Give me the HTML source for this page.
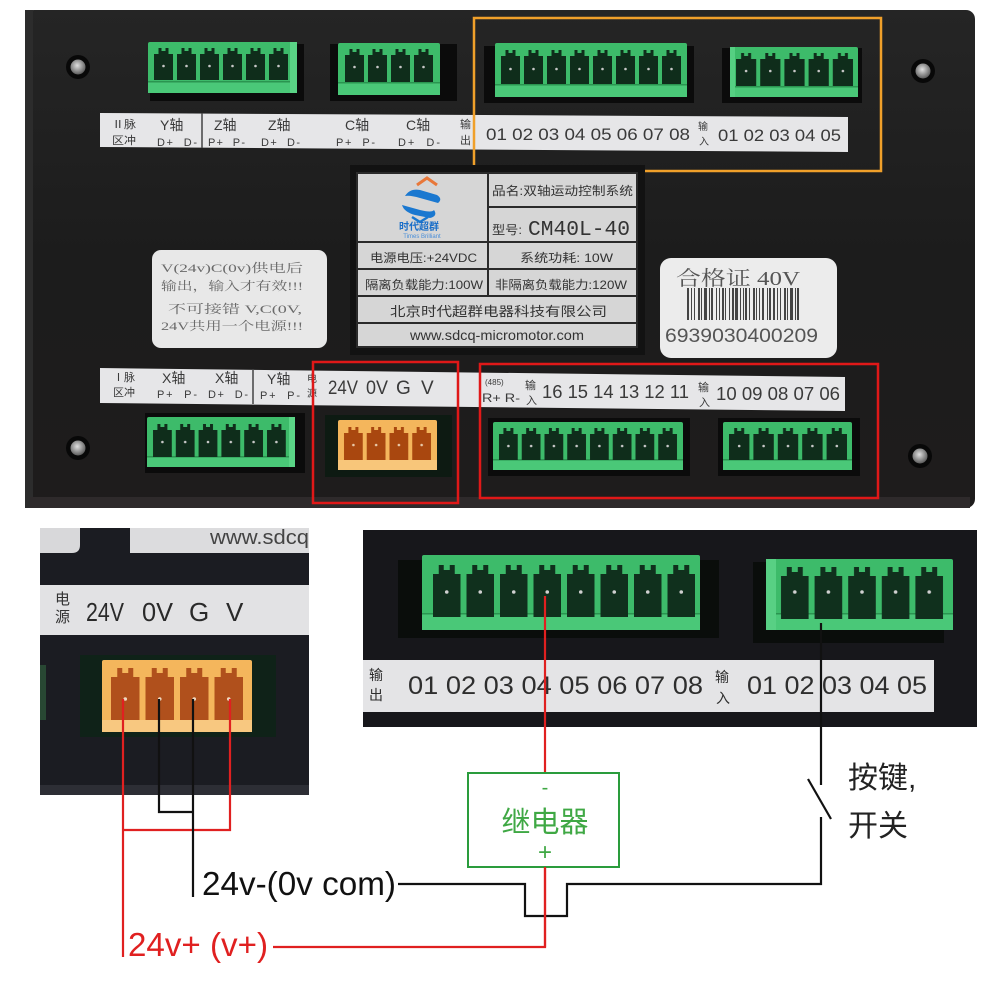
<!DOCTYPE html>
<html><head><meta charset="utf-8"><style>html,body{margin:0;padding:0;background:#fff}svg{display:block}</style></head>
<body>
<svg width="990" height="990" viewBox="0 0 990 990" xmlns="http://www.w3.org/2000/svg" font-family="'Liberation Sans','Noto Sans CJK SC',sans-serif">
<defs>
<radialGradient id="scr" cx="0.45" cy="0.4" r="0.6"><stop offset="0" stop-color="#e0e0e0"/><stop offset="1" stop-color="#5c5c5c"/></radialGradient>
<linearGradient id="pan" x1="0" y1="0" x2="0" y2="1"><stop offset="0" stop-color="#252525"/><stop offset="0.5" stop-color="#1c1c1c"/><stop offset="1" stop-color="#1e1c1c"/></linearGradient>
<!-- green patterns -->
<pattern id="g1" patternUnits="userSpaceOnUse" x="152" y="48" width="23" height="32"><rect x="2" y="6" width="19" height="26" fill="#0f2d1b"/><rect x="6.5" y="0" width="10" height="6" fill="#0f2d1b"/><rect x="9.5" y="0" width="4" height="3" fill="#3dbb6a"/><circle cx="11.5" cy="18" r="1.3" fill="#c8c8c8"/></pattern>
<pattern id="g2" patternUnits="userSpaceOnUse" x="343" y="49" width="23" height="33"><rect x="2" y="6" width="19" height="27" fill="#0f2d1b"/><rect x="6.5" y="0" width="10" height="6" fill="#0f2d1b"/><rect x="9.5" y="0" width="4" height="3" fill="#3dbb6a"/><circle cx="11.5" cy="18" r="1.3" fill="#c8c8c8"/></pattern>
<pattern id="g3" patternUnits="userSpaceOnUse" x="499" y="50" width="23" height="34"><rect x="2" y="6" width="19" height="28" fill="#0f2d1b"/><rect x="6.5" y="0" width="10" height="6" fill="#0f2d1b"/><rect x="9.5" y="0" width="4" height="3" fill="#3dbb6a"/><circle cx="11.5" cy="19" r="1.3" fill="#c8c8c8"/></pattern>
<pattern id="g4" patternUnits="userSpaceOnUse" x="734" y="53" width="24.2" height="33"><rect x="2" y="6" width="20.2" height="27" fill="#0f2d1b"/><rect x="7.1" y="0" width="10" height="6" fill="#0f2d1b"/><rect x="10.1" y="0" width="4" height="3" fill="#3dbb6a"/><circle cx="12.1" cy="18" r="1.3" fill="#c8c8c8"/></pattern>
<pattern id="g5" patternUnits="userSpaceOnUse" x="151" y="424" width="22.8" height="33"><rect x="2" y="6" width="18.8" height="27" fill="#0f2d1b"/><rect x="6.4" y="0" width="10" height="6" fill="#0f2d1b"/><rect x="9.4" y="0" width="4" height="3" fill="#3dbb6a"/><circle cx="11.4" cy="18" r="1.3" fill="#c8c8c8"/></pattern>
<pattern id="o1" patternUnits="userSpaceOnUse" x="342" y="427" width="22.75" height="33"><rect x="2" y="6" width="18.75" height="27" fill="#a9470f"/><rect x="6.4" y="0" width="10" height="6" fill="#a9470f"/><rect x="9.4" y="0" width="4" height="3" fill="#f4b65c"/><circle cx="11.4" cy="18" r="1.3" fill="#e8c8a8"/></pattern>
<pattern id="g6" patternUnits="userSpaceOnUse" x="497" y="428" width="22.75" height="32"><rect x="2" y="6" width="18.75" height="26" fill="#0f2d1b"/><rect x="6.4" y="0" width="10" height="6" fill="#0f2d1b"/><rect x="9.4" y="0" width="4" height="3" fill="#3dbb6a"/><circle cx="11.4" cy="18" r="1.3" fill="#c8c8c8"/></pattern>
<pattern id="g7" patternUnits="userSpaceOnUse" x="727" y="428" width="24.4" height="32"><rect x="2" y="6" width="20.4" height="26" fill="#0f2d1b"/><rect x="7.2" y="0" width="10" height="6" fill="#0f2d1b"/><rect x="10.2" y="0" width="4" height="3" fill="#3dbb6a"/><circle cx="12.2" cy="18" r="1.3" fill="#c8c8c8"/></pattern>
<pattern id="o2" patternUnits="userSpaceOnUse" x="108" y="668" width="34.5" height="52"><rect x="3" y="9" width="28.5" height="43" fill="#b0501c"/><rect x="9.25" y="0" width="16" height="9" fill="#b0501c"/><rect x="14.25" y="0" width="6" height="5" fill="#f4b65c"/><circle cx="17.25" cy="31" r="1.8" fill="#f0d8c0"/></pattern>
<pattern id="g8" patternUnits="userSpaceOnUse" x="430" y="565" width="33.5" height="52"><rect x="3" y="9" width="27.5" height="43" fill="#10301d"/><rect x="8.75" y="0" width="16" height="9" fill="#10301d"/><rect x="13.75" y="0" width="6" height="5" fill="#3dbb6a"/><circle cx="16.75" cy="27" r="1.8" fill="#d0d0d0"/></pattern>
<pattern id="g9" patternUnits="userSpaceOnUse" x="778" y="567" width="33.6" height="52"><rect x="3" y="9" width="27.6" height="43" fill="#10301d"/><rect x="8.8" y="0" width="16" height="9" fill="#10301d"/><rect x="13.8" y="0" width="6" height="5" fill="#3dbb6a"/><circle cx="16.8" cy="25" r="1.8" fill="#d0d0d0"/></pattern>
</defs>

<rect width="990" height="990" fill="#fff"/>

<!-- ===== TOP PANEL ===== -->
<rect x="25" y="10" width="950" height="498" rx="9" fill="url(#pan)"/>
<rect x="25" y="10" width="8" height="498" fill="#2c2c2c"/>
<rect x="30" y="497" width="940" height="11" fill="#2e2a2b"/>

<!-- screws -->
<circle cx="78" cy="67" r="12" fill="#080808"/><circle cx="78" cy="67" r="7.5" fill="url(#scr)"/>
<circle cx="923" cy="71" r="12" fill="#080808"/><circle cx="923" cy="71" r="7.5" fill="url(#scr)"/>
<circle cx="78" cy="448" r="12" fill="#080808"/><circle cx="78" cy="448" r="7.5" fill="url(#scr)"/>
<circle cx="920" cy="456" r="12" fill="#080808"/><circle cx="920" cy="456" r="7.5" fill="url(#scr)"/>

<!-- recesses top -->
<rect x="150" y="44" width="154" height="57" fill="#0b0b0b"/>
<rect x="330" y="44" width="127" height="57" fill="#0b0b0b"/>
<rect x="484" y="46" width="210" height="57" fill="#0b0b0b"/>
<rect x="722" y="48" width="140" height="55" fill="#0b0b0b"/>

<!-- top connectors -->
<rect x="148" y="42" width="149" height="51" rx="2" fill="#3dbb6a"/><rect x="148" y="82" width="149" height="11" fill="#4ac878"/><rect x="148" y="81" width="149" height="1.5" fill="#2a9550"/><rect x="152" y="48" width="138" height="32" fill="url(#g1)"/><rect x="290" y="42" width="7" height="51" fill="#5ad486"/>
<rect x="338" y="43" width="102" height="52" rx="2" fill="#3dbb6a"/><rect x="338" y="83" width="102" height="12" fill="#4ac878"/><rect x="338" y="82" width="102" height="1.5" fill="#2a9550"/><rect x="343" y="49" width="92" height="33" fill="url(#g2)"/>
<rect x="495" y="43" width="192" height="54" rx="2" fill="#3dbb6a"/><rect x="495" y="85" width="192" height="12" fill="#4ac878"/><rect x="495" y="84" width="192" height="1.5" fill="#2a9550"/><rect x="499" y="50" width="184" height="34" fill="url(#g3)"/>
<rect x="730" y="47" width="128" height="50" rx="2" fill="#3dbb6a"/><rect x="730" y="87" width="128" height="10" fill="#4ac878"/><rect x="730" y="86" width="128" height="1.5" fill="#2a9550"/><rect x="734" y="53" width="121" height="33" fill="url(#g4)"/><rect x="730" y="47" width="5" height="50" fill="#55cf82"/>

<!-- top label strip -->
<polygon points="100,113 848,117 848,152 100,147" fill="#e6e6e8"/>
<line x1="202" y1="113" x2="202" y2="148" stroke="#444" stroke-width="1.5"/>
<g fill="#3a3a3a">
<text x="112" y="128" font-size="11" textLength="24" lengthAdjust="spacingAndGlyphs">Ⅱ脉</text>
<text x="112" y="144" font-size="11" textLength="24" lengthAdjust="spacingAndGlyphs">区冲</text>
<text x="160" y="130" font-size="14">Y轴</text>
<text x="157" y="146" font-size="11" textLength="40" xml:space="preserve">D+  D-</text>
<text x="214" y="130" font-size="14">Z轴</text>
<text x="208" y="146" font-size="11" textLength="37" xml:space="preserve">P+  P-</text>
<text x="268" y="130" font-size="14">Z轴</text>
<text x="261" y="146" font-size="11" textLength="39" xml:space="preserve">D+  D-</text>
<text x="345" y="130" font-size="14">C轴</text>
<text x="336" y="146" font-size="11" textLength="39" xml:space="preserve">P+  P-</text>
<text x="406" y="130" font-size="14">C轴</text>
<text x="398" y="146" font-size="11" textLength="42" xml:space="preserve">D+  D-</text>
<text x="460" y="128" font-size="11">输</text>
<text x="460" y="144" font-size="11">出</text>
<text x="486" y="140" font-size="17" textLength="204" lengthAdjust="spacingAndGlyphs">01 02 03 04 05 06 07 08</text>
<text x="698" y="130" font-size="10">输</text>
<text x="699" y="145" font-size="10">入</text>
<text x="718" y="141" font-size="17" textLength="123" lengthAdjust="spacingAndGlyphs">01 02 03 04 05</text>
</g>

<!-- orange box -->
<rect x="474" y="18" width="407" height="153" fill="none" stroke="#f0a02a" stroke-width="2.5"/>

<!-- nameplate -->
<rect x="350" y="165" width="295" height="190" fill="#121212"/>
<rect x="357" y="173" width="280" height="174" fill="#d6d6d6"/>
<g stroke="#2a2a2a" stroke-width="2">
<line x1="488" y1="173" x2="488" y2="296"/>
<line x1="488" y1="207" x2="637" y2="207"/>
<line x1="357" y1="242" x2="637" y2="242"/>
<line x1="357" y1="269" x2="637" y2="269"/>
<line x1="357" y1="296" x2="637" y2="296"/>
<line x1="357" y1="323" x2="637" y2="323"/>
<rect x="357" y="173" width="280" height="174" fill="none"/>
</g>
<!-- logo -->
<path d="M417,185 L427,178 L437,185" fill="none" stroke="#e8783a" stroke-width="3"/>
<path d="M405,196 Q410,188 420,190 L437,195 Q443,199 438,203 L420,198 Q410,195 405,196 Z" fill="#1a78d0"/>
<path d="M402,205 L420,210 Q432,213 434,210 Q438,216 430,218 L415,215 Q404,212 402,205 Z" fill="#1a78d0"/>
<path d="M412,217 L420,222 L428,217" fill="none" stroke="#1a78d0" stroke-width="2.5"/>
<text x="419" y="230" font-size="10" font-weight="bold" fill="#1a6ec8" text-anchor="middle" textLength="40" lengthAdjust="spacingAndGlyphs">时代超群</text>
<text x="422" y="238" font-size="6" fill="#4a8ed8" text-anchor="middle">Times Brilliant</text>
<g fill="#333">
<text x="492" y="195" font-size="12" textLength="141" lengthAdjust="spacingAndGlyphs">品名:双轴运动控制系统</text>
<text x="492" y="234" font-size="12" textLength="30" lengthAdjust="spacingAndGlyphs">型号:</text>
<text x="528" y="235" font-size="21" font-family="'Liberation Mono',monospace" textLength="102" lengthAdjust="spacingAndGlyphs">CM40L-40</text>
<text x="370" y="262" font-size="12" textLength="107" lengthAdjust="spacingAndGlyphs">电源电压:+24VDC</text>
<text x="520" y="262" font-size="12" textLength="93" lengthAdjust="spacingAndGlyphs">系统功耗: 10W</text>
<text x="365" y="289" font-size="12" textLength="118" lengthAdjust="spacingAndGlyphs">隔离负载能力:100W</text>
<text x="495" y="289" font-size="12" textLength="132" lengthAdjust="spacingAndGlyphs">非隔离负载能力:120W</text>
<text x="390" y="316" font-size="13" textLength="217" lengthAdjust="spacingAndGlyphs">北京时代超群电器科技有限公司</text>
<text x="410" y="340" font-size="14" textLength="174" lengthAdjust="spacingAndGlyphs">www.sdcq-micromotor.com</text>
</g>

<!-- left sticker -->
<rect x="152" y="250" width="175" height="98" rx="9" fill="#e8e8e8"/>
<g fill="#6a6a6a" font-family="'Liberation Serif','Noto Serif CJK SC',serif" font-size="12">
<text x="161" y="272" textLength="142" lengthAdjust="spacingAndGlyphs">V(24v)C(0v)供电后</text>
<text x="161" y="290" textLength="142" lengthAdjust="spacingAndGlyphs">输出，输入才有效!!!</text>
<text x="168" y="313" textLength="134" lengthAdjust="spacingAndGlyphs">不可接错 V,C(0V,</text>
<text x="161" y="330" textLength="142" lengthAdjust="spacingAndGlyphs">24V共用一个电源!!!</text>
</g>

<!-- right sticker -->
<rect x="660" y="258" width="177" height="100" rx="11" fill="#ececec"/>
<text x="676" y="285" font-size="20" fill="#555" font-family="'Liberation Serif','Noto Serif CJK SC',serif" textLength="124" lengthAdjust="spacingAndGlyphs">合格证 40V</text>
<line x1="687" y1="304" x2="800" y2="304" stroke="#444" stroke-width="32" stroke-dasharray="2 2 1 2 1 3 2 1 1 2 3 2 1 1 2 3 1 2 1 2 2 1 1 3 1 2 2 1 3 2 1 2 1 1 2 2 1 3 2 1 1 2 1 2 2 3 1 1 2 2"/>
<text x="665" y="342" font-size="19" fill="#555" textLength="153" lengthAdjust="spacingAndGlyphs">6939030400209</text>

<!-- bottom recesses -->
<rect x="145" y="413" width="160" height="60" fill="#0b0b0b"/>
<rect x="325" y="415" width="127" height="62" fill="#0d1a12"/>
<rect x="488" y="418" width="202" height="58" fill="#0b0b0b"/>
<rect x="718" y="418" width="142" height="58" fill="#0b0b0b"/>

<!-- bottom strip -->
<polygon points="100,368 845,377 845,411 100,403" fill="#e6e6e8"/>
<line x1="253" y1="369" x2="253" y2="404" stroke="#444" stroke-width="1.5"/>
<g fill="#3a3a3a">
<text x="113" y="381" font-size="11" textLength="22" lengthAdjust="spacingAndGlyphs">Ⅰ脉</text>
<text x="113" y="396" font-size="11" textLength="22" lengthAdjust="spacingAndGlyphs">区冲</text>
<text x="162" y="383" font-size="14">X轴</text>
<text x="157" y="398" font-size="11" textLength="40" xml:space="preserve">P+  P-</text>
<text x="215" y="383" font-size="14">X轴</text>
<text x="208" y="398" font-size="11" textLength="40" xml:space="preserve">D+  D-</text>
<text x="267" y="384" font-size="14">Y轴</text>
<text x="260" y="399" font-size="11" textLength="40" xml:space="preserve">P+  P-</text>
<text x="307" y="382" font-size="10">电</text>
<text x="307" y="397" font-size="10">源</text>
<text x="328" y="394" font-size="19" textLength="30" lengthAdjust="spacingAndGlyphs">24V</text>
<text x="366" y="394" font-size="19" textLength="22" lengthAdjust="spacingAndGlyphs">0V</text>
<text x="396" y="394" font-size="19">G</text>
<text x="421" y="394" font-size="19">V</text>
<text x="485" y="385" font-size="8">(485)</text>
<text x="482" y="402" font-size="12" textLength="38" lengthAdjust="spacingAndGlyphs">R+ R-</text>
<text x="525" y="389" font-size="11">输</text>
<text x="526" y="404" font-size="11">入</text>
<text x="542" y="398" font-size="18" textLength="147" lengthAdjust="spacingAndGlyphs">16 15 14 13 12 11</text>
<text x="698" y="391" font-size="11">输</text>
<text x="699" y="406" font-size="11">入</text>
<text x="716" y="400" font-size="18" textLength="124" lengthAdjust="spacingAndGlyphs">10 09 08 07 06</text>
</g>

<!-- bottom connectors -->
<rect x="147" y="417" width="148" height="50" rx="2" fill="#3dbb6a"/><rect x="147" y="457" width="148" height="10" fill="#4ac878"/><rect x="147" y="456" width="148" height="1.5" fill="#2a9550"/><rect x="151" y="424" width="137" height="33" fill="url(#g5)"/><rect x="289" y="417" width="6" height="50" fill="#5ad486"/>
<rect x="338" y="420" width="99" height="50" rx="2" fill="#f4b65c"/><rect x="338" y="460" width="99" height="10" fill="#f8c67a"/><rect x="342" y="427" width="91" height="33" fill="url(#o1)"/>
<rect x="493" y="422" width="190" height="48" rx="2" fill="#3dbb6a"/><rect x="493" y="460" width="190" height="10" fill="#4ac878"/><rect x="493" y="459" width="190" height="1.5" fill="#2a9550"/><rect x="497" y="428" width="182" height="32" fill="url(#g6)"/>
<rect x="723" y="422" width="129" height="48" rx="2" fill="#3dbb6a"/><rect x="723" y="460" width="129" height="10" fill="#4ac878"/><rect x="723" y="459" width="129" height="1.5" fill="#2a9550"/><rect x="727" y="428" width="122" height="32" fill="url(#g7)"/>

<!-- red boxes -->
<rect x="313" y="362" width="145" height="141" fill="none" stroke="#e01818" stroke-width="2.5"/>
<rect x="480" y="364" width="398" height="134" fill="none" stroke="#e01818" stroke-width="2.5"/>

<!-- ===== LOWER LEFT PHOTO ===== -->
<rect x="40" y="528" width="269" height="267" fill="#1b1c22"/>
<path d="M40,528 H80 V545 Q80,553 72,553 H40 Z" fill="#d8d8da"/>
<rect x="130" y="528" width="179" height="25" fill="#dcdcde"/>
<text x="210" y="544" font-size="20" fill="#444" textLength="99" lengthAdjust="spacingAndGlyphs">www.sdcq</text>
<rect x="40" y="585" width="269" height="50" fill="#e2e2e4"/>
<text x="55" y="604" font-size="15" fill="#333">电</text>
<text x="55" y="622" font-size="15" fill="#333">源</text>
<g fill="#2a2a2a" font-size="26">
<text x="86" y="621" textLength="38" lengthAdjust="spacingAndGlyphs">24V</text>
<text x="142" y="621" textLength="31" lengthAdjust="spacingAndGlyphs">0V</text>
<text x="189" y="621">G</text>
<text x="226" y="621">V</text>
</g>
<rect x="40" y="665" width="6" height="55" fill="#2d5a3a" opacity="0.7"/>
<rect x="80" y="655" width="196" height="82" fill="#0f2218"/>
<rect x="102" y="660" width="150" height="72" rx="2" fill="#f4b65c"/><rect x="102" y="720" width="150" height="12" fill="#f8c880"/>
<rect x="108" y="668" width="138" height="52" fill="url(#o2)"/>
<rect x="40" y="785" width="269" height="10" fill="#2d2e35"/>

<!-- ===== LOWER RIGHT PHOTO ===== -->
<rect x="363" y="530" width="614" height="197" fill="#17171b"/>
<rect x="398" y="560" width="321" height="78" fill="#0a0d0b"/>
<rect x="753" y="562" width="191" height="81" fill="#0a0d0b"/>
<rect x="422" y="555" width="278" height="75" rx="2" fill="#3dbb6a"/><rect x="422" y="614" width="278" height="16" fill="#4ac878"/><rect x="422" y="613" width="278" height="1.5" fill="#2a9550"/>
<rect x="430" y="565" width="268" height="52" fill="url(#g8)"/>
<rect x="766" y="559" width="187" height="71" rx="2" fill="#3dbb6a"/><rect x="766" y="614" width="187" height="16" fill="#4ac878"/><rect x="766" y="613" width="187" height="1.5" fill="#2a9550"/><rect x="766" y="559" width="10" height="71" fill="#58d084"/>
<rect x="778" y="567" width="168" height="52" fill="url(#g9)"/>
<rect x="363" y="660" width="571" height="52" fill="#e4e4e6"/>
<g fill="#2e2e2e">
<text x="369" y="680" font-size="14">输</text>
<text x="369" y="700" font-size="14">出</text>
<text x="408" y="694" font-size="25" textLength="295" lengthAdjust="spacingAndGlyphs">01 02 03 04 05 06 07 08</text>
<text x="715" y="682" font-size="14">输</text>
<text x="716" y="703" font-size="14">入</text>
<text x="747" y="694" font-size="25" textLength="180" lengthAdjust="spacingAndGlyphs">01 02 03 04 05</text>
</g>

<!-- ===== WIRING ===== -->
<g fill="none" stroke-width="2.2">
<path d="M123,699 V957" stroke="#e02020"/>
<path d="M230,699 V830 H123" stroke="#e02020"/>
<path d="M159,699 V812 H193" stroke="#111"/>
<path d="M193,699 V897" stroke="#111"/>
<path d="M545,596 V773" stroke="#e02020"/>
<path d="M398,884 H525 V916 H567 V884 H821 V817" stroke="#111"/>
<path d="M821,623 V785" stroke="#111"/>
<path d="M808,779 L831,819" stroke="#111"/>
<path d="M545,867 V947 H273" stroke="#e02020"/>
</g>

<rect x="468" y="773" width="151" height="94" fill="#fff" stroke="#2a9c3c" stroke-width="2"/>
<g fill="#3fa844" text-anchor="middle">
<text x="545" y="794" font-size="20">-</text>
<text x="545" y="832" font-size="29">继电器</text>
<text x="545" y="860" font-size="24">+</text>
</g>
<path d="M545,867 V947" stroke="#e02020" stroke-width="2.2"/>

<text x="202" y="895" font-size="33" fill="#111" textLength="194" lengthAdjust="spacingAndGlyphs">24v-(0v com)</text>
<text x="128" y="956" font-size="33" fill="#e02020" textLength="140" lengthAdjust="spacingAndGlyphs">24v+ (v+)</text>
<text x="848" y="788" font-size="30" fill="#222">按键,</text>
<text x="848" y="836" font-size="30" fill="#222">开关</text>
</svg>
</body></html>
